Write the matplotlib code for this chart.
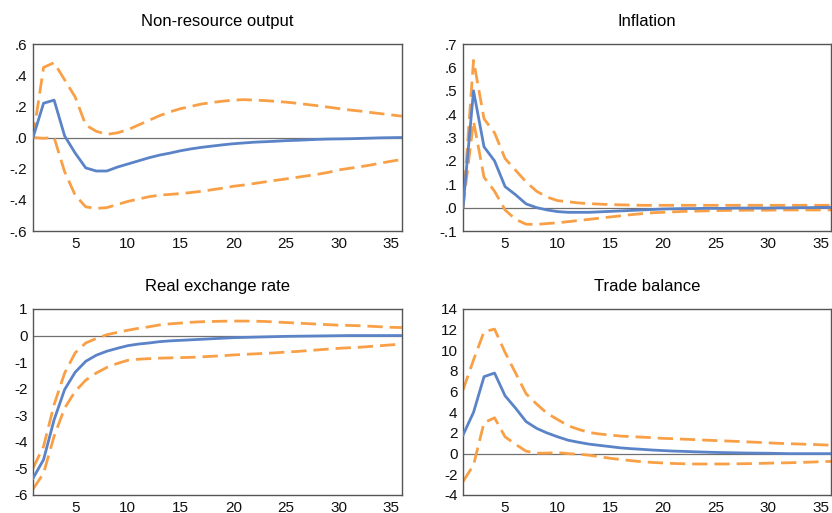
import numpy as np
import matplotlib
matplotlib.use("Agg")
import matplotlib.pyplot as plt
from matplotlib.ticker import FuncFormatter

plt.rcParams['font.family'] = ['Liberation Sans', 'DejaVu Sans']

periods = np.arange(1, 37)

# Non-resource output
out_mid = [0.0, 0.22, 0.24, 0.01, -0.10, -0.195, -0.215, -0.215, -0.19, -0.17,
           -0.15, -0.13, -0.113, -0.10, -0.085, -0.073, -0.063, -0.055, -0.047, -0.04,
           -0.035, -0.03, -0.027, -0.024, -0.02, -0.018, -0.015, -0.012, -0.01, -0.009,
           -0.008, -0.006, -0.004, -0.002, -0.001, 0.0]
out_hi = [0.0, 0.45, 0.48, 0.37, 0.26, 0.08, 0.04, 0.02, 0.03, 0.05,
          0.08, 0.11, 0.14, 0.165, 0.185, 0.20, 0.215, 0.225, 0.233, 0.24,
          0.243, 0.24, 0.237, 0.232, 0.227, 0.22, 0.212, 0.204, 0.195, 0.186,
          0.177, 0.17, 0.161, 0.153, 0.145, 0.137]
out_lo = [0.0, -0.005, 0.0, -0.22, -0.37, -0.445, -0.455, -0.45, -0.43, -0.41,
          -0.395, -0.38, -0.37, -0.365, -0.36, -0.353, -0.345, -0.335, -0.325, -0.313,
          -0.305, -0.295, -0.285, -0.275, -0.266, -0.256, -0.246, -0.236, -0.224, -0.208,
          -0.198, -0.188, -0.177, -0.164, -0.152, -0.141]

# Inflation
inf_mid = [0.0, 0.50, 0.26, 0.20, 0.09, 0.055, 0.016, 0.0, -0.01, -0.017,
           -0.02, -0.02, -0.02, -0.018, -0.016, -0.014, -0.012, -0.01, -0.008, -0.006,
           -0.005, -0.004, -0.004, -0.003, -0.003, -0.003, -0.002, -0.002, -0.002, -0.002,
           -0.001, -0.001, 0.0, 0.0, 0.001, 0.001]
inf_hi = [0.0, 0.63, 0.38, 0.32, 0.21, 0.16, 0.11, 0.07, 0.045, 0.03,
          0.025, 0.02, 0.017, 0.015, 0.013, 0.012, 0.011, 0.01, 0.01, 0.01,
          0.01, 0.01, 0.01, 0.01, 0.01, 0.01, 0.01, 0.01, 0.01, 0.01,
          0.01, 0.01, 0.01, 0.01, 0.01, 0.01]
inf_lo = [0.0, 0.37, 0.13, 0.07, -0.01, -0.05, -0.071, -0.072, -0.068, -0.065,
          -0.06, -0.055, -0.05, -0.045, -0.04, -0.035, -0.03, -0.026, -0.022, -0.02,
          -0.018, -0.016, -0.015, -0.014, -0.013, -0.012, -0.012, -0.011, -0.011, -0.011,
          -0.01, -0.01, -0.01, -0.01, -0.01, -0.01]

# Real exchange rate
rer_mid = [-5.37, -4.67, -3.17, -2.03, -1.38, -0.97, -0.74, -0.59, -0.48, -0.38,
           -0.32, -0.28, -0.23, -0.20, -0.18, -0.16, -0.14, -0.12, -0.10, -0.08,
           -0.07, -0.06, -0.05, -0.04, -0.03, -0.025, -0.02, -0.015, -0.01, -0.005,
           0.0, 0.0, 0.0, 0.0, 0.0, 0.0]
rer_hi = [-4.99, -4.17, -2.60, -1.41, -0.65, -0.28, -0.11, 0.03, 0.12, 0.20,
          0.27, 0.33, 0.40, 0.44, 0.47, 0.50, 0.52, 0.53, 0.54, 0.545,
          0.545, 0.54, 0.53, 0.51, 0.49, 0.47, 0.45, 0.43, 0.41, 0.39,
          0.38, 0.37, 0.35, 0.33, 0.31, 0.30]
rer_lo = [-5.78, -5.18, -3.79, -2.73, -2.10, -1.68, -1.41, -1.20, -1.05, -0.93,
          -0.89, -0.87, -0.85, -0.84, -0.83, -0.82, -0.80, -0.78, -0.76, -0.73,
          -0.71, -0.69, -0.67, -0.65, -0.62, -0.60, -0.57, -0.54, -0.51, -0.48,
          -0.46, -0.44, -0.41, -0.38, -0.35, -0.32]

# Trade balance
tb_mid = [1.8, 4.0, 7.45, 7.8, 5.6, 4.4, 3.1, 2.45, 2.0, 1.63,
          1.3, 1.1, 0.92, 0.8, 0.68, 0.56, 0.48, 0.42, 0.35, 0.3,
          0.25, 0.22, 0.18, 0.15, 0.12, 0.1, 0.08, 0.06, 0.05, 0.04,
          0.02, 0.0, 0.0, 0.0, 0.0, 0.0]
tb_hi = [6.15, 9.07, 11.8, 12.05, 9.8, 7.8, 5.8, 4.8, 3.9, 3.3,
         2.7, 2.35, 2.05, 1.9, 1.8, 1.7, 1.65, 1.6, 1.55, 1.48,
         1.45, 1.4, 1.36, 1.31, 1.27, 1.23, 1.19, 1.14, 1.1, 1.05,
         1.0, 0.97, 0.93, 0.9, 0.86, 0.82]
tb_lo = [-2.7, -1.1, 3.0, 3.47, 1.63, 0.9, 0.24, 0.05, 0.05, 0.1,
         0.0, -0.05, -0.15, -0.3, -0.45, -0.57, -0.68, -0.78, -0.85, -0.9,
         -0.95, -0.98, -1.0, -1.0, -1.0, -1.0, -0.98, -0.97, -0.95, -0.92,
         -0.9, -0.88, -0.85, -0.82, -0.78, -0.75]

blue = '#5b83c7'
orange = '#f9a047'


def dot_fmt(v, pos):
    # EViews style: drop the leading zero
    s = '%.1f' % v
    if s.startswith('0.'):
        s = s[1:]
    elif s.startswith('-0.'):
        s = '-' + s[2:]
    if s == '-.0':
        s = '.0'
    return s


panels = [
    ('Non-resource output', out_mid, out_hi, out_lo, (-0.6, 0.6), np.arange(-0.6, 0.61, 0.2), True,
     [0.0397, 0.5497, 0.4433, 0.3645]),
    ('Inflation', inf_mid, inf_hi, inf_lo, (-0.1, 0.7), np.arange(-0.1, 0.71, 0.1), True,
     [0.5565, 0.5497, 0.4423, 0.3645]),
    ('Real exchange rate', rer_mid, rer_hi, rer_lo, (-6, 1), np.arange(-6, 2, 1), False,
     [0.0397, 0.0351, 0.4433, 0.3626]),
    ('Trade balance', tb_mid, tb_hi, tb_lo, (-4, 14), np.arange(-4, 15, 2), False,
     [0.5565, 0.0351, 0.4423, 0.3626]),
]

fig = plt.figure(figsize=(8.32, 5.13), dpi=100)

for title, mid, hi, lo, ylim, yticks, dotted, rect in panels:
    ax = fig.add_axes(rect)
    ax.axhline(0, color='#707070', lw=0.9, zorder=1)
    ax.plot(periods, hi, color=orange, lw=2.0, ls=(0, (5.5, 2.5)), zorder=2)
    ax.plot(periods, lo, color=orange, lw=2.0, ls=(0, (5.5, 2.5)), zorder=2)
    ax.plot(periods, mid, color=blue, lw=2.0, zorder=3)
    ax.set_xlim(1, 36)
    ax.set_ylim(*ylim)
    ax.set_xticks([5, 10, 15, 20, 25, 30, 35])
    ax.set_yticks(yticks)
    if dotted:
        ax.yaxis.set_major_formatter(FuncFormatter(dot_fmt))
    else:
        ax.yaxis.set_major_formatter(FuncFormatter(lambda v, p: '%d' % round(v)))
    ax.tick_params(length=0, labelsize=11, pad=4, colors='#111111')
    for sp in ax.spines.values():
        sp.set_color('#555555')
        sp.set_linewidth(1.0)
    ax.set_title(title, fontsize=12, pad=13)

fig.savefig('out.png', dpi=100)
